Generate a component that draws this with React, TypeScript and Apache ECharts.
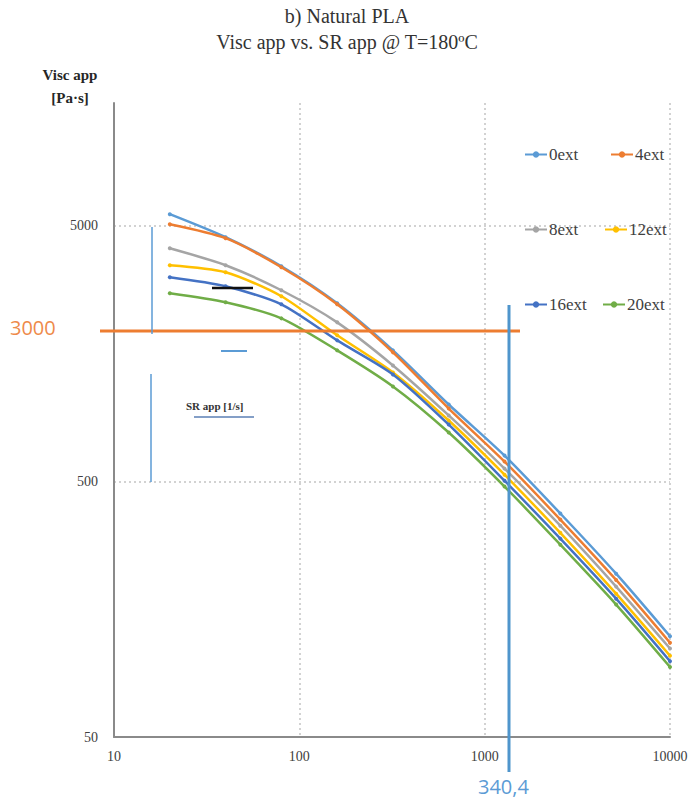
import React, { useEffect, useRef } from 'react';
import * as echarts from 'echarts';

// Apparent shear rate [1/s]
const shearRates = [20, 40, 80, 160, 320, 640, 1280, 2560, 5120, 10000];
// Apparent viscosity [Pa·s]
const visc0ext = [5572, 4527, 3484, 2495, 1632, 1002, 632, 375, 218, 124];
const visc4ext = [5091, 4487, 3453, 2472, 1603, 966, 599, 355, 206, 117];
const visc8ext = [4099, 3516, 2806, 2101, 1425, 908, 562, 336, 194, 111];
const visc12ext = [3516, 3300, 2658, 1869, 1338, 867, 532, 315, 182, 104];
const visc16ext = [3155, 2909, 2472, 1786, 1314, 836, 504, 299, 174, 99];
const visc20ext = [2731, 2518, 2178, 1632, 1179, 778, 478, 283, 165, 94];

const seriesNames = ['0ext', '4ext', '8ext', '12ext', '16ext', '20ext'];
const seriesValues = [visc0ext, visc4ext, visc8ext, visc12ext, visc16ext, visc20ext];
const seriesColors = ['#5B9BD5', '#ED7D31', '#A5A5A5', '#FFC000', '#4472C4', '#70AD47'];

const yTickLabels = [50, 500, 5000];
const xTickLabels = [10, 100, 1000, 10000];

const titleLine1 = 'b) Natural PLA';
const titleLine2 = 'Visc app vs. SR app @ T=180ºC';
const yAxisTitle = 'Visc app\n[Pa·s]';
const annoHorizontal = '3000';
const annoVertical = '340,4';
const annoSR = 'SR app [1/s]';

const legendPos = [
  { left: 524, top: 146 },
  { left: 610, top: 146 },
  { left: 524, top: 221 },
  { left: 604, top: 221 },
  { left: 524, top: 296 },
  { left: 602, top: 296 },
];

const SERIF = 'Liberation Serif';
const SANS = 'Open Sans';

export default function App() {
  const ref = useRef<HTMLDivElement>(null);
  useEffect(() => {
    if (!ref.current) return;
    const chart = echarts.init(ref.current, null, { renderer: 'svg' });
    const nearest = (v: number, list: number[]) => {
      for (const t of list) if (Math.abs(Math.log10(v) - Math.log10(t)) < 0.01) return String(t);
      return '';
    };
    const option: any = {
      animation: false,
      backgroundColor: '#ffffff',
      textStyle: { fontFamily: SERIF },
      grid: { left: 114, right: 24, top: 103, bottom: 68, containLabel: false },
      xAxis: {
        type: 'log',
        logBase: 10,
        min: 10,
        max: 10000,
        axisLine: { show: true, lineStyle: { color: '#8a8a8a', width: 2 } },
        axisTick: { show: false },
        axisLabel: {
          color: '#404040',
          fontFamily: SERIF,
          fontSize: 14,
          margin: 12,
          formatter: (v: number) => nearest(v, xTickLabels),
        },
        splitLine: { show: true, showMinLine: false, lineStyle: { color: '#c4c4c4', type: [2, 3], width: 1.5 } },
      },
      yAxis: {
        type: 'log',
        logBase: 10,
        min: 50,
        max: 15180,
        interval: 1,
        axisLine: { show: true, lineStyle: { color: '#8a8a8a', width: 2 } },
        axisTick: { show: false },
        axisLabel: {
          color: '#404040',
          fontFamily: SERIF,
          fontSize: 14,
          margin: 16,
          formatter: (v: number) => nearest(v, yTickLabels),
        },
        splitLine: {
          show: true,
          showMinLine: false,
          showMaxLine: false,
          lineStyle: { color: '#c4c4c4', type: [2, 3], width: 1.5 },
        },
      },
      legend: seriesNames.map((n, i) => ({
        data: [n],
        left: legendPos[i].left,
        top: legendPos[i].top,
        padding: 0,
        itemWidth: 22,
        itemHeight: 8,
        itemGap: 0,
        textStyle: { fontFamily: SERIF, fontSize: 17, color: '#404040', padding: [0, 0, 0, -3] },
      })),
      series: seriesNames.map((n, i) => ({
        name: n,
        type: 'line',
        data: shearRates.map((x, j) => [x, seriesValues[i][j]]),
        smooth: 0.25,
        symbol: 'circle',
        symbolSize: 4,
        showSymbol: true,
        itemStyle: { color: seriesColors[i] },
        lineStyle: { color: seriesColors[i], width: 2.5 },
        z: 2 + i,
      })),
      graphic: [
        {
          type: 'text', left: 'center', top: 6,
          style: { text: titleLine1, fontFamily: SERIF, fontSize: 20, fill: '#333333', textAlign: 'center' },
        },
        {
          type: 'text', left: 'center', top: 32,
          style: { text: titleLine2, fontFamily: SERIF, fontSize: 20, fill: '#333333', textAlign: 'center' },
        },
        {
          type: 'text', x: 70, y: 63,
          style: {
            text: yAxisTitle, fontFamily: SERIF, fontSize: 15, fontWeight: 'bold', fill: '#262626',
            textAlign: 'center', lineHeight: 23,
          },
        },
        // Annotation lines
        { type: 'line', shape: { x1: 100, y1: 331, x2: 520, y2: 331 }, style: { stroke: '#ED7D31', lineWidth: 3 }, z: 50 },
        { type: 'line', shape: { x1: 509, y1: 305, x2: 509, y2: 772 }, style: { stroke: '#4F95CC', lineWidth: 3 }, z: 50 },
        { type: 'line', shape: { x1: 152, y1: 227, x2: 152, y2: 334 }, style: { stroke: '#5B9BD5', lineWidth: 1.5 }, z: 50 },
        { type: 'line', shape: { x1: 151, y1: 374, x2: 151, y2: 482 }, style: { stroke: '#5B9BD5', lineWidth: 1.5 }, z: 50 },
        { type: 'line', shape: { x1: 221, y1: 351, x2: 247, y2: 351 }, style: { stroke: '#5B9BD5', lineWidth: 2 }, z: 50 },
        { type: 'line', shape: { x1: 212, y1: 288, x2: 253, y2: 288 }, style: { stroke: '#111111', lineWidth: 2.5 }, z: 50 },
        { type: 'line', shape: { x1: 194, y1: 417, x2: 254, y2: 417 }, style: { stroke: '#5B7FB5', lineWidth: 1.5 }, z: 50 },
        {
          type: 'text', x: 186, y: 400,
          style: { text: annoSR, fontFamily: SERIF, fontSize: 11, fontWeight: 'bold', fill: '#333333' },
          z: 50,
        },
        {
          type: 'text', x: 10, y: 317,
          style: { text: annoHorizontal, fontFamily: SANS, fontSize: 20, fill: '#EE8A4A' },
          z: 50,
        },
        {
          type: 'text', x: 478, y: 776,
          style: { text: annoVertical, fontFamily: SANS, fontSize: 20, fill: '#5B9BD5' },
          z: 50,
        },
      ],
    };
    chart.setOption(option);
    return () => chart.dispose();
  }, []);
  return <div ref={ref} style={{ position: 'absolute', left: 0, top: 0, width: 694, height: 805 }} />;
}
